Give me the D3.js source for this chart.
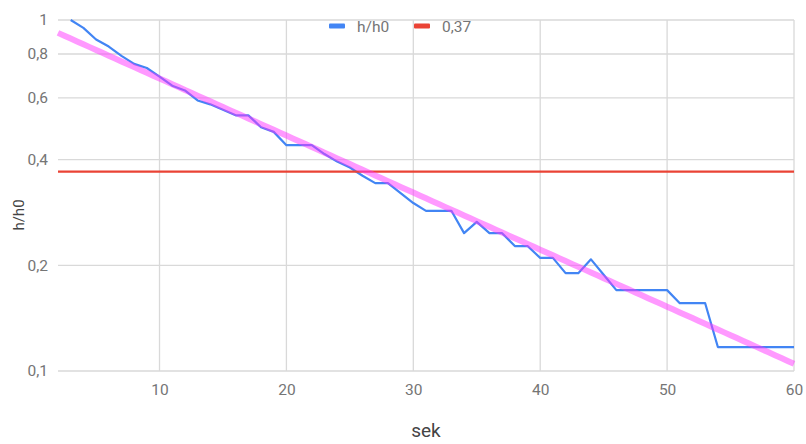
<!DOCTYPE html>
<html>
<head>
<meta charset="utf-8">
<script src="https://cdn.jsdelivr.net/npm/d3@7"></script>
<style>
  body { margin: 0; background: #fff; }
  text { font-family: Roboto, "Noto Sans", sans-serif; }
</style>
</head>
<body>
<div id="chart"></div>
<script>
// time in seconds
var seconds = [3,4,5,6,7,8,9,10,11,12,13,14,15,16,17,18,19,20,21,22,23,24,25,26,27,28,29,30,
               31,32,33,34,35,36,37,38,39,40,41,42,43,44,45,46,47,48,49,50,51,52,53,54,55,56,57,58,59,60];
// h/h0
var ratio = [1.0,0.95,0.88,0.84,0.79,0.75,0.73,0.69,0.65,0.63,0.59,0.575,0.555,0.535,0.535,0.495,0.48,0.44,0.44,0.44,
             0.415,0.395,0.38,0.36,0.343,0.343,0.321,0.301,0.286,0.286,0.286,0.247,0.266,0.247,0.247,0.227,0.227,0.21,0.21,0.19,
             0.19,0.208,0.188,0.17,0.17,0.17,0.17,0.17,0.156,0.156,0.156,0.117,0.117,0.117,0.117,0.117,0.117,0.117];
var threshold = 0.37;
var xTicks = [10, 20, 30, 40, 50, 60];
var yTicks = [0.1, 0.2, 0.4, 0.6, 0.8, 1];
var yTickLabels = ["0,1", "0,2", "0,4", "0,6", "0,8", "1"];
var legendNames = ["h/h0", "0,37"];

var width = 806, height = 444;
var margin = {top: 20, right: 12, bottom: 73, left: 58};

var svg = d3.select("#chart").append("svg")
    .attr("width", width)
    .attr("height", height);

var x = d3.scaleLinear().domain([2, 60]).range([margin.left, width - margin.right]);
var y = d3.scaleLog().domain([0.1, 1]).range([height - margin.bottom, margin.top]);

// grid
var grid = svg.append("g");
grid.selectAll(".vgrid")
    .data(xTicks)
    .join("line")
    .attr("x1", d => x(d)).attr("x2", d => x(d))
    .attr("y1", margin.top).attr("y2", height - margin.bottom)
    .attr("stroke", "#d9d9d9").attr("stroke-width", 1.3);
grid.selectAll(".hgrid")
    .data(yTicks)
    .join("line")
    .attr("x1", margin.left).attr("x2", width - margin.right)
    .attr("y1", d => y(d)).attr("y2", d => y(d))
    .attr("stroke", "#d9d9d9").attr("stroke-width", 1.3);

// axes labels
var xAxis = svg.append("g")
    .attr("transform", "translate(0," + (height - margin.bottom) + ")")
    .call(d3.axisBottom(x).tickValues(xTicks).tickSize(0).tickPadding(13));
var yAxis = svg.append("g")
    .attr("transform", "translate(" + margin.left + ",0)")
    .call(d3.axisLeft(y).tickValues(yTicks).tickSize(0).tickPadding(10)
        .tickFormat((d, i) => yTickLabels[i]));
[xAxis, yAxis].forEach(a => {
    a.select(".domain").remove();
    a.selectAll("text").attr("font-size", 15.5).attr("fill", "#757575")
        .style("font-family", "Roboto, sans-serif");
});

svg.append("text")
    .attr("x", x(31)).attr("y", 437)
    .attr("text-anchor", "middle")
    .attr("font-size", 19).attr("fill", "#444")
    .text("sek");
svg.append("text")
    .attr("transform", "translate(24," + 215 + ") rotate(-90)")
    .attr("text-anchor", "middle")
    .attr("font-size", 15).attr("fill", "#444")
    .text("h/h0");

var data = seconds.map((s, i) => ({x: s, v: ratio[i]}));

// exponential trendline (least squares on ln)
var n = data.length;
var mx = d3.mean(data, d => d.x), ml = d3.mean(data, d => Math.log(d.v));
var b = d3.sum(data, d => (d.x - mx) * (Math.log(d.v) - ml)) / d3.sum(data, d => (d.x - mx) * (d.x - mx));
var a = Math.exp(ml - b * mx);
var trend = d3.range(2, 60.01, 0.5).map(t => ({x: t, v: a * Math.exp(b * t)}));

var line = d3.line().x(d => x(d.x)).y(d => y(d.v));

svg.append("path")
    .datum(data)
    .attr("d", line)
    .attr("fill", "none")
    .attr("stroke", "#4285f4")
    .attr("stroke-width", 2.2)
    .attr("stroke-linejoin", "round");

svg.append("line")
    .attr("x1", margin.left).attr("x2", width - margin.right)
    .attr("y1", y(threshold)).attr("y2", y(threshold))
    .attr("stroke", "#ea4335").attr("stroke-width", 2.2);

svg.append("path")
    .datum(trend)
    .attr("d", line)
    .attr("fill", "none")
    .attr("stroke", "#ff33ff")
    .attr("stroke-opacity", 0.5)
    .attr("stroke-width", 6);

// legend
var legend = svg.append("g").attr("transform", "translate(329,26)");
var lcolors = ["#4285f4", "#ea4335"];
var lx = [0, 85];
legend.selectAll("rect")
    .data(legendNames)
    .join("rect")
    .attr("x", (d, i) => lx[i]).attr("y", -2.5)
    .attr("width", 16).attr("height", 5)
    .attr("rx", 1)
    .attr("fill", (d, i) => lcolors[i]);
legend.selectAll("text")
    .data(legendNames)
    .join("text")
    .attr("x", (d, i) => lx[i] + 28).attr("y", 5.5)
    .attr("font-size", 15.5).attr("fill", "#757575")
    .text(d => d);
</script>
</body>
</html>
